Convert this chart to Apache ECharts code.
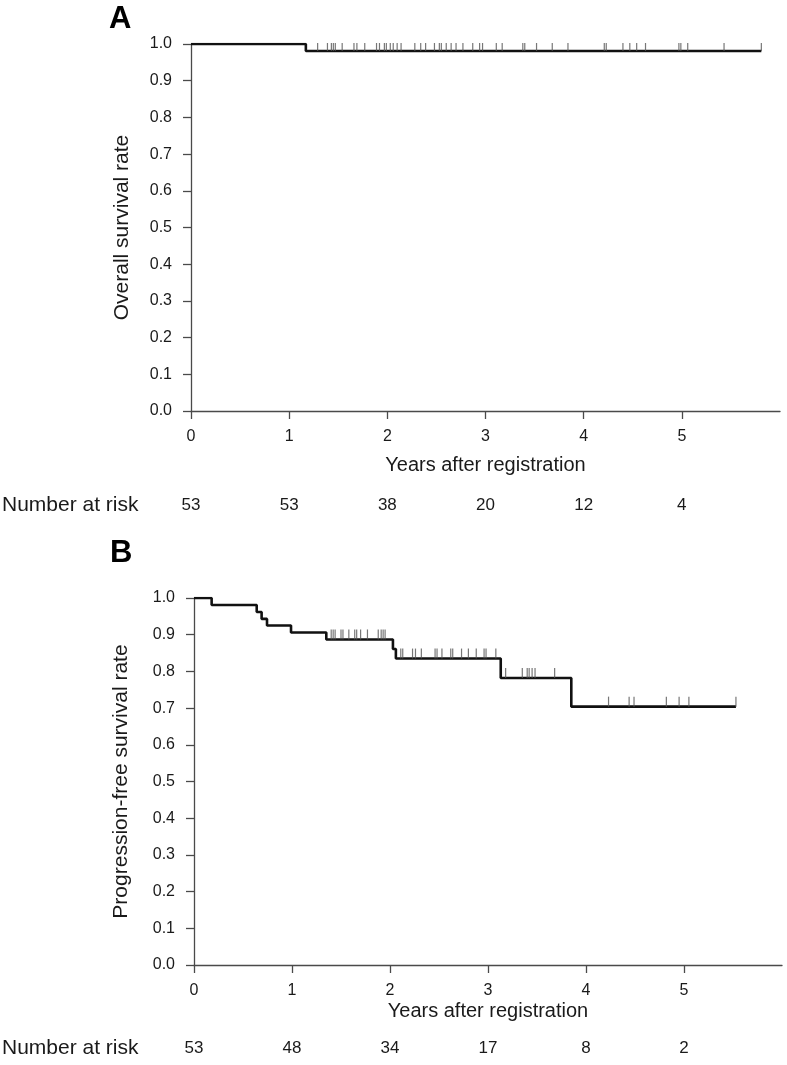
<!DOCTYPE html>
<html>
<head>
<meta charset="utf-8">
<script src="https://cdn.jsdelivr.net/npm/echarts@6/dist/echarts.min.js"></script>
<style>
html,body{margin:0;padding:0;background:#fff;}
#chart{width:787px;height:1065px;}
</style>
</head>
<body>
<div id="chart"></div>
<script>
// ---------- DATA ----------
const xTickValues = [0, 1, 2, 3, 4, 5];

// Panel A: overall survival
const osTimes = [0, 1.17, 5.81];
const osSurv = [1.0, 0.981, 0.981];
const osCensor = [1.29, 1.39, 1.43, 1.45, 1.47, 1.54, 1.66, 1.69, 1.77, 1.89, 1.92, 1.97, 1.99,
  2.03, 2.06, 2.10, 2.14, 2.28, 2.34, 2.39, 2.48, 2.53, 2.55, 2.60, 2.65, 2.70, 2.77, 2.87, 2.94, 2.97,
  3.11, 3.17, 3.38, 3.40, 3.52, 3.68, 3.84, 4.21, 4.23, 4.40, 4.47, 4.54, 4.63, 4.97, 4.99, 5.06, 5.43, 5.81];
const osRisk = [53, 53, 38, 20, 12, 4];

// Panel B: progression-free survival
const pfsTimes = [0, 0.18, 0.64, 0.69, 0.745, 0.99, 1.35, 2.03, 2.06, 3.13, 3.85, 5.53];
const pfsSurv = [1.0, 0.981, 0.962, 0.943, 0.925, 0.906, 0.887, 0.861, 0.835, 0.782, 0.704, 0.704];
const pfsCensor = [1.40, 1.42, 1.44, 1.50, 1.52, 1.58, 1.64, 1.66, 1.70, 1.77, 1.88, 1.91, 1.93, 1.95,
  2.11, 2.13, 2.23, 2.26, 2.32, 2.46, 2.48, 2.53, 2.62, 2.64, 2.73, 2.80, 2.88, 2.96, 2.98, 3.08,
  3.18, 3.35, 3.40, 3.42, 3.45, 3.48, 3.68, 4.23, 4.44, 4.49, 4.82, 4.95, 5.05, 5.53];
const pfsRisk = [53, 48, 34, 17, 8, 2];

// ---------- HELPERS ----------
function survAt(t, times, surv) {
  let v = surv[0];
  for (let i = 0; i < times.length; i++) { if (times[i] <= t + 1e-9) v = surv[i]; }
  return v;
}
const FONT = '"Liberation Sans", Arial, Helvetica, sans-serif';
const AX = '#4a4a4a';
const TXT = '#1a1a1a';

function yAxisCfg(gi, name, gap) {
  return {
    type: 'value', gridIndex: gi, min: 0, max: 1, interval: 0.1,
    name: name, nameLocation: 'middle', nameGap: gap,
    nameTextStyle: { fontFamily: FONT, fontSize: 21, color: TXT },
    axisLine: { show: true, lineStyle: { color: AX, width: 1.3 } },
    axisTick: { show: true, length: 8, lineStyle: { color: AX, width: 1.3 } },
    axisLabel: { formatter: v => v.toFixed(1), fontFamily: FONT, fontSize: 16, color: TXT, margin: 19 },
    splitLine: { show: false }
  };
}
function xAxisCfg(gi, nameGap) {
  return {
    type: 'value', gridIndex: gi, min: 0, max: 6, interval: 1,
    name: 'Years after registration', nameLocation: 'middle', nameGap: nameGap,
    nameTextStyle: { fontFamily: FONT, fontSize: 20, color: TXT },
    axisLine: { show: true, onZero: false, lineStyle: { color: AX, width: 1.3 } },
    axisTick: { show: true, length: 8, customValues: xTickValues, lineStyle: { color: AX, width: 1.3 } },
    axisLabel: { customValues: xTickValues, fontFamily: FONT, fontSize: 16, color: TXT, margin: 18 },
    splitLine: { show: false }
  };
}
function riskAxisCfg(gi, offset, risk) {
  return {
    type: 'value', gridIndex: gi, min: 0, max: 6, position: 'bottom', offset: offset,
    axisLine: { show: false },
    axisTick: { show: false },
    axisLabel: {
      customValues: xTickValues, margin: 0, verticalAlign: 'middle',
      formatter: v => { const i = xTickValues.indexOf(Math.round(v)); return i >= 0 ? String(risk[i]) : ''; },
      fontFamily: FONT, fontSize: 17, color: TXT
    },
    splitLine: { show: false }
  };
}
function curve(xi, yi, times, surv) {
  return {
    type: 'line', xAxisIndex: xi, yAxisIndex: yi, step: 'end', symbol: 'none',
    lineStyle: { color: '#111', width: 2.6 }, z: 3,
    data: times.map((t, i) => [t, surv[i]]), animation: false
  };
}
function censors(xi, yi, cens, times, surv, h) {
  return {
    type: 'scatter', xAxisIndex: xi, yAxisIndex: yi, symbol: 'rect',
    symbolSize: [1.2, h], symbolOffset: [0, -h / 2],
    itemStyle: { color: '#555' }, z: 4, silent: true,
    data: cens.map(t => [t, survAt(t, times, surv)]), animation: false
  };
}
const titleText = (text, left, top, size, weight) => ({
  text: text, left: left, top: top, padding: 0,
  textStyle: { fontFamily: FONT, fontSize: size, fontWeight: weight, color: weight === 'bold' ? '#000' : TXT }
});

const chart = echarts.init(document.getElementById('chart'), null, { renderer: 'canvas' });
chart.setOption({
  backgroundColor: '#fff',
  animation: false,
  title: [
    titleText('A', 109, 4, 31, 'bold'),
    titleText('B', 110, 538, 31, 'bold'),
    titleText('Number at risk', 2, 495, 21, 'normal'),
    titleText('Number at risk', 2, 1038, 21, 'normal')
  ],
  grid: [
    { left: 191, top: 44, width: 589, height: 367 },
    { left: 194, top: 598, width: 588, height: 367 }
  ],
  xAxis: [
    xAxisCfg(0, 44),
    riskAxisCfg(0, 94, osRisk),
    xAxisCfg(1, 36),
    riskAxisCfg(1, 83, pfsRisk)
  ],
  yAxis: [
    yAxisCfg(0, 'Overall survival rate', 58),
    yAxisCfg(1, 'Progression-free survival rate', 62)
  ],
  series: [
    curve(0, 0, osTimes, osSurv),
    censors(0, 0, osCensor, osTimes, osSurv, 8),
    curve(2, 1, pfsTimes, pfsSurv),
    censors(2, 1, pfsCensor, pfsTimes, pfsSurv, 10)
  ]
});
</script>
</body>
</html>
